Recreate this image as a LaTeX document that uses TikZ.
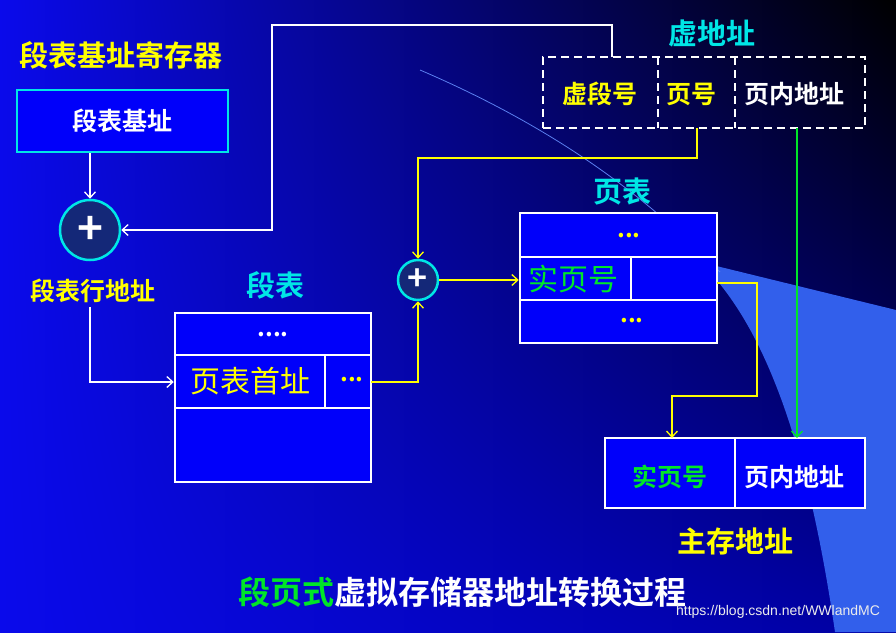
\documentclass[tikz,border=0pt]{standalone}
\usepackage{fontspec}
\setmainfont{Noto Sans CJK SC}[BoldFont={Noto Sans CJK SC Bold}]
\newfontfamily\urlfont{Liberation Sans}
\usetikzlibrary{arrows.meta,shadings}
\definecolor{bgL}{RGB}{10,10,235}
\definecolor{bgR}{RGB}{0,0,120}
\definecolor{bgM}{RGB}{0,0,160}
\definecolor{wedge}{RGB}{50,95,235}
\definecolor{cy}{RGB}{0,230,230}
\definecolor{yl}{RGB}{255,255,0}
\definecolor{gr}{RGB}{0,230,40}
\definecolor{cell}{RGB}{0,0,250}
\definecolor{navy}{RGB}{20,40,120}
\begin{document}
\begin{tikzpicture}[x=1pt,y=-1pt,
  box/.style={draw=white,line width=2.5pt,fill=cell,inner sep=0pt},
  adder/.style={circle,draw=cy,line width=2.5pt,fill=navy,minimum size=#1,inner sep=0pt,text=white,font=\bfseries\fontsize{44}{44}\selectfont},
  lab/.style={font=\bfseries\fontsize{29}{29}\selectfont},
  mid/.style={font=\bfseries\fontsize{25}{25}\selectfont},
  wa/.style={draw=white,line width=1.3pt,-{Straight Barb[length=6pt,width=11pt]}},
  ya/.style={draw=yl,line width=1.3pt,-{Straight Barb[length=6pt,width=11pt]}},
  ga/.style={draw=gr,line width=1.3pt,-{Straight Barb[length=6pt,width=11pt]}}]
\useasboundingbox (0,0) rectangle (896,632);
\shade[upper left=bgL,lower left=bgL,upper right=black,lower right=bgM] (0,0) rectangle (896,632);
\fill[wedge] (700,262) -- (896,310) -- (896,632) -- (835,632) .. controls (810,460) and (770,330) .. (700,262) -- cycle;
\draw[wedge!80!white,line width=0.8pt] (420,70) .. controls (560,130) and (650,200) .. (720,272);
% registers
\node[lab,text=yl] (regl) at (121,55) {段表基址寄存器};
\node[box,draw=cy,minimum width=211pt,minimum height=62pt,text=white,mid] (reg) at (122.5,121) {段表基址};
\node[adder=60pt] (c1) at (90,230) {+};
\node[mid,text=yl] (rowl) at (93,291) {段表行地址};
% segment table
\node[lab,text=cy] (stl) at (275,285) {段表};
\node[box,minimum width=196pt,minimum height=169pt] (st) at (273,397.5) {};
\draw[white,line width=2.5pt] (175,355) -- (371,355) (175,408) -- (371,408) (325,355) -- (325,408);
\node[text=white,font=\bfseries\fontsize{24}{24}\selectfont] (sd) at (273,335) {....};
\node[text=yl,font=\fontsize{30}{30}\selectfont] (ptaddr) at (250,381) {页表首址};
\node[text=yl,font=\bfseries\fontsize{24}{24}\selectfont] (sd2) at (352,380) {...};
% adder 2
\node[adder=40pt,font=\bfseries\fontsize{34}{34}\selectfont] (c2) at (418,280) {+};
% page table
\node[lab,text=cy] (ptl) at (622,191) {页表};
\node[box,minimum width=197pt,minimum height=130pt] (pt) at (618.5,278) {};
\draw[white,line width=2.5pt] (520,257) -- (717,257) (520,300) -- (717,300) (631,257) -- (631,300);
\node[text=yl,font=\bfseries\fontsize{24}{24}\selectfont] (pd1) at (629,236) {...};
\node[text=gr,font=\fontsize{30}{30}\selectfont] (rpn) at (573,279) {实页号};
\node[text=yl,font=\bfseries\fontsize{24}{24}\selectfont] (pd2) at (632,321) {...};
% virtual address
\node[lab,text=cy] (val) at (712,33) {虚地址};
\node[draw=white,line width=2.5pt,dash pattern=on 8pt off 5pt,minimum width=322pt,minimum height=71pt,inner sep=0pt] (va) at (704,92.5) {};
\draw[white,line width=2.5pt,dash pattern=on 8pt off 5pt] (658,57) -- (658,128) (735,57) -- (735,128);
\node[mid,text=yl] (vsn) at (600,94) {虚段号};
\node[mid,text=yl] (vpn) at (691,94) {页号};
\node[mid,text=white] (voff) at (794,94) {页内地址};
% main memory
\node[box,minimum width=260pt,minimum height=70pt] (mm) at (735,473) {};
\draw[white,line width=2.5pt] (735,438) -- (735,508);
\node[mid,text=gr] (mrpn) at (670,477) {实页号};
\node[mid,text=white] (moff) at (794,477) {页内地址};
\node[lab,text=yl] (mml) at (735,541) {主存地址};
% title
\node[font=\bfseries\fontsize{32}{32}\selectfont] (title) at (462,592) {\textcolor{gr}{段页式}\textcolor{white}{虚拟存储器地址转换过程}};
\node[text=white!85!gray,font=\urlfont\fontsize{14}{14}\selectfont] (url) at (778,612) {https://blog.csdn.net/WWlandMC};
% coordinates
\coordinate (rowOut) at (90,307);
\coordinate (vsnTop) at (612,57);
\coordinate (vpnBot) at (697,128);
\coordinate (voffBot) at (797,128);
\coordinate (ptOut) at (717,283);
\coordinate (stOut) at (371,382);
\coordinate (mmIn) at (672,438);
\coordinate (mmIn2) at (797,438);
% connectors
\draw[wa] (reg.south -| c1) -- (c1.north);
\draw[wa] (vsnTop) -- (612,25) -- (272,25) -- (272,230) -- (c1.east);
\draw[wa] (rowOut) -- (90,382) -- (st.west |- 0,382);
\draw[ya] (stOut) -- (418,382) -- (c2.south);
\draw[ya] (vpnBot) -- (697,158) -- (418,158) -- (c2.north);
\draw[ya] (c2.east) -- (pt.west |- c2);
\draw[ya] (ptOut) -- (757,283) -- (757,396) -- (672,396) -- (mmIn);
\draw[ga] (voffBot) -- (mmIn2);
\end{tikzpicture}
\end{document}
